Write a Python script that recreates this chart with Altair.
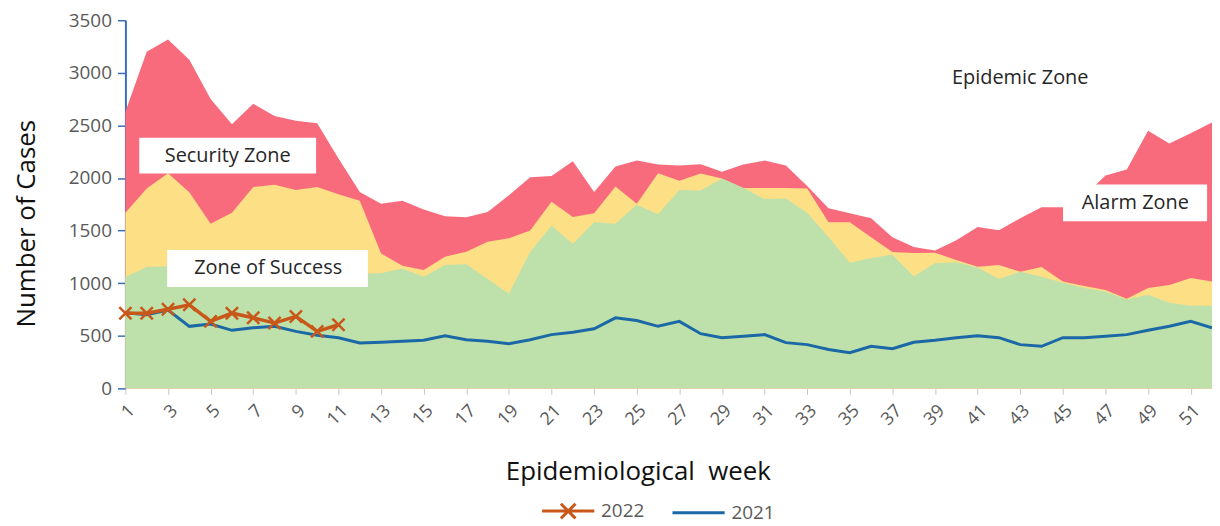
import altair as alt
import pandas as pd

# ---- data ----
weeks = list(range(1, 53))

alarm_top = [2630, 3200, 3317, 3125, 2750, 2510, 2705, 2590, 2545, 2520,
             2185, 1867, 1756, 1785, 1700, 1636, 1627, 1677, 1835, 2008,
             2020, 2160, 1867, 2109, 2166, 2128, 2119, 2130, 2060, 2128,
             2166, 2119, 1925, 1712, 1665, 1617, 1438, 1343, 1310, 1409,
             1535, 1504, 1617, 1722, 1722, 1830, 2024, 2081, 2450, 2327,
             2425, 2528]

security_top = [1670, 1900, 2045, 1865, 1565, 1670, 1915, 1935, 1885, 1914,
                1845, 1785, 1283, 1165, 1126, 1252, 1300, 1395, 1428, 1500,
                1775, 1630, 1665, 1920, 1755, 2045, 1975, 2043, 1996, 1905,
                1905, 1905, 1901, 1580, 1580, 1438, 1296, 1286, 1290, 1220,
                1157, 1173, 1110, 1154, 1015, 974, 936, 851, 955, 984,
                1050, 1015]

success_top = [1060, 1155, 1160, 1155, 1145, 1140, 1140, 1135, 1130, 1115,
               1100, 1090, 1095, 1140, 1062, 1173, 1180, 1040, 900, 1300,
               1545, 1375, 1580, 1565, 1745, 1655, 1885, 1882, 1996, 1905,
               1800, 1806, 1670, 1440, 1195, 1240, 1270, 1065, 1190, 1200,
               1150, 1040, 1110, 1062, 1005, 955, 920, 845, 890, 813,
               785, 785]

cases_2021 = [720, 700, 745, 590, 612, 552, 577, 590, 542, 505,
              482, 432, 438, 448, 457, 501, 463, 448, 425, 463,
              511, 533, 567, 671, 646, 590, 637, 520, 482, 495,
              511, 435, 416, 369, 340, 400, 378, 438, 457, 482,
              501, 482, 416, 400, 482, 482, 495, 511, 552, 590,
              637, 577]

weeks_2022 = list(range(1, 12))
cases_2022 = [715, 715, 752, 795, 637, 715, 671, 621, 684, 542, 605]

series_names = ["2022", "2021"]

zone_labels = ["Security Zone", "Zone of Success", "Epidemic Zone", "Alarm Zone"]
zone_week = [5.8, 7.7, 43.0, 48.4]
zone_cases = [2213, 1145, 2951, 1759]
zone_w1 = [1.65, 2.96, 38.72, 45.01]
zone_w2 = [9.95, 12.38, 47.11, 51.77]
zone_c1 = [2043, 965, 2771, 1589]
zone_c2 = [2383, 1315, 3131, 1939]

# ---- styling ----
FONT = "Open Sans"
C_EPI = "#d4e6f5"
C_ALARM = "#f86b7d"
C_SEC = "#fddf86"
C_SUC = "#bee0aa"
C_2021 = "#1b68a6"
C_2022 = "#c8581a"
GRAY = "#595959"

df = pd.DataFrame({"week": weeks, "alarm": alarm_top, "security": security_top,
                   "success": success_top, "y2021": cases_2021})
df22 = pd.DataFrame({"week": weeks_2022, "y2022": cases_2022})
ann = pd.DataFrame({"label": zone_labels, "wk": zone_week, "cs": zone_cases,
                    "w1": zone_w1, "w2": zone_w2, "c1": zone_c1, "c2": zone_c2})
leg = pd.DataFrame({"year": series_names})

xscale = alt.Scale(domain=[1, 52], nice=False, zero=False)
yscale = alt.Scale(domain=[0, 3500], nice=False)

x_axis = alt.Axis(
    title="Epidemiological\u00a0 week", values=weeks,
    labelExpr="datum.value % 2 == 1 ? datum.label : ''",
    labelAngle=-45, labelFontSize=18, labelColor=GRAY, labelPadding=7,
    labelFont=FONT, domain=False, tickColor="#c8c8c8", tickSize=6, grid=False,
    titleFont=FONT, titleFontSize=26, titleFontWeight="normal", titleColor="#111111",
    titleX=515, titleY=84, titleBaseline="middle", titleAlign="center",
)
y_axis = alt.Axis(
    title="Number of Cases", values=[0, 500, 1000, 1500, 2000, 2500, 3000, 3500],
    format="d",
    labelFontSize=19, labelColor=GRAY, labelFont=FONT, labelPadding=6,
    domainColor="#3a6fb5", domainWidth=2, tickColor="#3a6fb5", tickWidth=1.5,
    tickSize=8, grid=False,
    titleFont=FONT, titleFontSize=26, titleFontWeight="normal", titleColor="#111111",
    titleX=-99, titleY=204, titleAngle=-90, titleBaseline="middle", titleAlign="center",
)

base = alt.Chart(df)

area_alarm = base.mark_area(color=C_ALARM, opacity=1).encode(
    x=alt.X("week:Q", scale=xscale, axis=x_axis),
    y=alt.Y("alarm:Q", scale=yscale, axis=y_axis),
)
area_sec = base.mark_area(color=C_SEC, opacity=1).encode(
    x=alt.X("week:Q", scale=xscale), y=alt.Y("security:Q", scale=yscale))
area_suc = base.mark_area(color=C_SUC, opacity=1).encode(
    x=alt.X("week:Q", scale=xscale), y=alt.Y("success:Q", scale=yscale))

boxes = alt.Chart(ann).mark_rect(fill="#ffffff", opacity=1).encode(
    x=alt.X("w1:Q", scale=xscale), x2="w2:Q",
    y=alt.Y("c1:Q", scale=yscale), y2="c2:Q",
)
texts = alt.Chart(ann).mark_text(font=FONT, fontSize=20, color="#262626").encode(
    x=alt.X("wk:Q", scale=xscale), y=alt.Y("cs:Q", scale=yscale), text="label:N",
)

line21 = base.mark_line(color=C_2021, strokeWidth=3).encode(
    x=alt.X("week:Q", scale=xscale), y=alt.Y("y2021:Q", scale=yscale))
line22 = alt.Chart(df22).mark_line(color=C_2022, strokeWidth=3.5).encode(
    x=alt.X("week:Q", scale=xscale), y=alt.Y("y2022:Q", scale=yscale))
X_PATH = "M-1,-1L1,1M-1,1L1,-1"
pts22 = alt.Chart(df22).mark_point(
    shape=X_PATH, size=150, color=C_2022, strokeWidth=2.5, filled=False, opacity=1
).encode(x=alt.X("week:Q", scale=xscale), y=alt.Y("y2022:Q", scale=yscale))

legend_def = alt.Legend(title=None, orient="none", direction="horizontal",
                        legendX=417, legendY=465, labelFont=FONT,
                        labelFontSize=19, labelColor=GRAY, labelOffset=5,
                        columnPadding=21, symbolSize=2750,
                        symbolStrokeWidth=3, padding=0)

legend_layer = alt.Chart(leg).transform_filter("false").mark_point(
    filled=False, opacity=1
).encode(
    color=alt.Color("year:N", scale=alt.Scale(domain=series_names, range=[C_2022, C_2021]),
                    legend=legend_def),
    shape=alt.Shape("year:N", scale=alt.Scale(
        domain=series_names,
        range=["M-1,0H1M-0.28,-0.28L0.28,0.28M-0.28,0.28L0.28,-0.28", "M-1,0H1"]),
        legend=legend_def),
)

chart = alt.layer(
    area_alarm, area_sec, area_suc, boxes, texts, line21, line22, pts22, legend_layer
).properties(
    width=1092, height=370,
    autosize=alt.AutoSizeParams(type="none"),
    padding={"left": 118, "top": 11, "right": 0, "bottom": 135},
).configure(font=FONT, background="white").configure_view(
    fill=C_EPI, stroke=None
)

chart.save("out.html", embed_options={"renderer": "svg", "actions": False})
